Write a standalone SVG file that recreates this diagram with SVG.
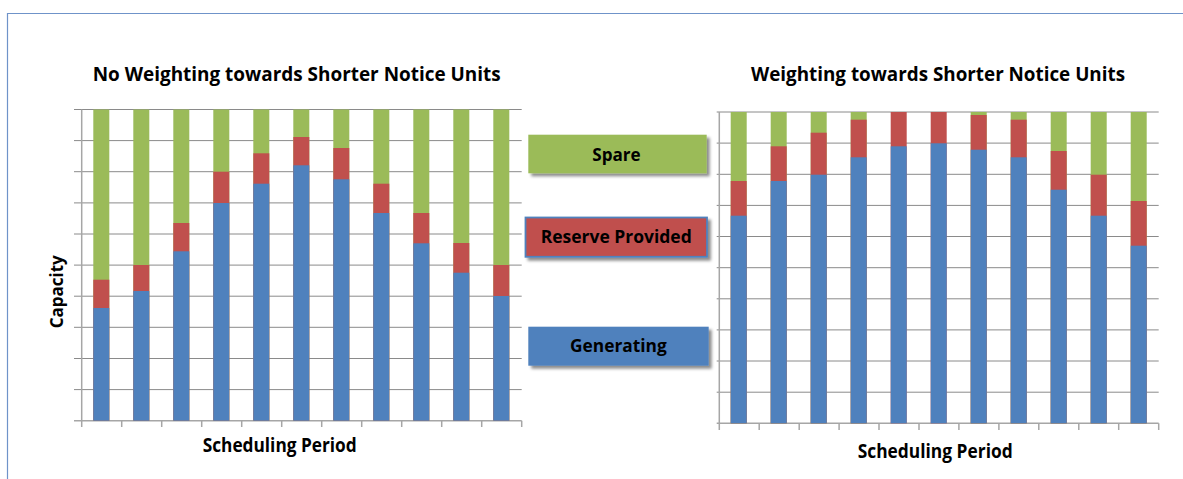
<svg xmlns="http://www.w3.org/2000/svg" width="1183" height="479" viewBox="0 0 1183 479">
<style>
.grid{stroke:#8a8a8a;stroke-width:1;fill:none}
.axis{stroke:#a6a6a6;stroke-width:1.5;fill:none}
.g{fill:#9BBB59}
.r{fill:#C0504D}
.b{fill:#4F81BD}
.t{font-family:"Open Sans","Noto Sans",sans-serif;font-weight:bold;fill:#000}
</style>
<defs>
<filter id="sh" x="-10%" y="-20%" width="120%" height="150%">
<feDropShadow dx="3" dy="3" stdDeviation="1.8" flood-color="#000" flood-opacity="0.45"/>
</filter>
</defs>
<rect width="1183" height="479" fill="#fff"/>
<path d="M7.5 479 V13.5 H1183" stroke="#6f93c9" stroke-width="1.2" fill="none"/>

<g id="left-chart">
<text class="t" x="92.7" y="80.5" font-size="20" textLength="408" lengthAdjust="spacingAndGlyphs">No Weighting towards Shorter Notice Units</text>
<g id="left-grid" class="grid">
<path d="M74 109.5H521.7M74 140.6H521.7M74 171.7H521.7M74 202.9H521.7M74 234H521.7M74 265.1H521.7M74 296.2H521.7M74 327.3H521.7M74 358.5H521.7M74 389.6H521.7"/>
</g>
<g id="left-axes" class="axis">
<path d="M81.7 109.5V427M74 420.7H521.7"/>
<path d="M121.7 420.7V427M161.7 420.7V427M201.7 420.7V427M241.7 420.7V427M281.7 420.7V427M321.7 420.7V427M361.7 420.7V427M401.7 420.7V427M441.7 420.7V427M481.7 420.7V427M521.7 420.7V427"/>
</g>
<g id="left-bars">
<rect class="g" x="93.3" y="109.5" width="16" height="311.2"/><rect class="r" x="93.3" y="279.7" width="16" height="141"/><rect class="b" x="93.3" y="308" width="16" height="112.7"/>
<rect class="g" x="133.3" y="109.5" width="16" height="311.2"/><rect class="r" x="133.3" y="265" width="16" height="155.7"/><rect class="b" x="133.3" y="291" width="16" height="129.7"/>
<rect class="g" x="173.3" y="109.5" width="16" height="311.2"/><rect class="r" x="173.3" y="223" width="16" height="197.7"/><rect class="b" x="173.3" y="251.3" width="16" height="169.4"/>
<rect class="g" x="213.3" y="109.5" width="16" height="311.2"/><rect class="r" x="213.3" y="171.7" width="16" height="249"/><rect class="b" x="213.3" y="203" width="16" height="217.7"/>
<rect class="g" x="253.3" y="109.5" width="16" height="311.2"/><rect class="r" x="253.3" y="153.3" width="16" height="267.4"/><rect class="b" x="253.3" y="183.7" width="16" height="237"/>
<rect class="g" x="293.3" y="109.5" width="16" height="311.2"/><rect class="r" x="293.3" y="137" width="16" height="283.7"/><rect class="b" x="293.3" y="165.3" width="16" height="255.4"/>
<rect class="g" x="333.3" y="109.5" width="16" height="311.2"/><rect class="r" x="333.3" y="148" width="16" height="272.7"/><rect class="b" x="333.3" y="179.3" width="16" height="241.4"/>
<rect class="g" x="373.3" y="109.5" width="16" height="311.2"/><rect class="r" x="373.3" y="183.7" width="16" height="237"/><rect class="b" x="373.3" y="213" width="16" height="207.7"/>
<rect class="g" x="413.3" y="109.5" width="16" height="311.2"/><rect class="r" x="413.3" y="213" width="16" height="207.7"/><rect class="b" x="413.3" y="243.3" width="16" height="177.4"/>
<rect class="g" x="453.3" y="109.5" width="16" height="311.2"/><rect class="r" x="453.3" y="243" width="16" height="177.7"/><rect class="b" x="453.3" y="272.7" width="16" height="148"/>
<rect class="g" x="493.3" y="109.5" width="16" height="311.2"/><rect class="r" x="493.3" y="265" width="16" height="155.7"/><rect class="b" x="493.3" y="296" width="16" height="124.7"/>
</g>
<text class="t" x="0" y="0" font-size="17.5" textLength="73" lengthAdjust="spacingAndGlyphs" transform="translate(62.7 328.3) rotate(-90)">Capacity</text>
<text class="t" x="202.7" y="451.5" font-size="19" textLength="154" lengthAdjust="spacingAndGlyphs">Scheduling Period</text>
</g>

<g id="legend">
<g id="legend-spare">
<rect class="g" x="528.3" y="134.7" width="178.4" height="38.6" filter="url(#sh)"/>
<text class="t" x="592.3" y="160.7" font-size="18" textLength="48.4" lengthAdjust="spacingAndGlyphs">Spare</text>
</g>
<g id="legend-reserve">
<rect class="r" x="525.5" y="217.5" width="181.5" height="39.3" stroke="#4F81BD" stroke-width="1.8" filter="url(#sh)"/>
<text class="t" x="540.7" y="243.3" font-size="18" textLength="151" lengthAdjust="spacingAndGlyphs">Reserve Provided</text>
</g>
<g id="legend-generating">
<rect class="b" x="528.3" y="326.7" width="180.4" height="39" filter="url(#sh)"/>
<text class="t" x="570" y="352.3" font-size="18" textLength="96.7" lengthAdjust="spacingAndGlyphs">Generating</text>
</g>
</g>

<g id="right-chart">
<text class="t" x="751" y="80.5" font-size="20" textLength="374" lengthAdjust="spacingAndGlyphs">Weighting towards Shorter Notice Units</text>
<g id="right-grid" class="grid">
<path d="M716.7 112H1158.7M716.7 143.1H1158.7M716.7 174.3H1158.7M716.7 205.4H1158.7M716.7 236.5H1158.7M716.7 267.7H1158.7M716.7 298.8H1158.7M716.7 329.9H1158.7M716.7 361H1158.7M716.7 392.2H1158.7"/>
</g>
<g id="right-axes" class="axis">
<path d="M719.3 112V430M716.7 423.3H1158.7"/>
<path d="M759.2 423.3V430M799.2 423.3V430M839.1 423.3V430M879 423.3V430M919 423.3V430M958.9 423.3V430M998.9 423.3V430M1038.8 423.3V430M1078.8 423.3V430M1118.7 423.3V430M1158.7 423.3V430"/>
</g>
<g id="right-bars">
<rect class="g" x="730.7" y="112" width="16" height="311.3"/><rect class="r" x="730.7" y="181" width="16" height="242.3"/><rect class="b" x="730.7" y="215.7" width="16" height="207.6"/>
<rect class="g" x="770.7" y="112" width="16" height="311.3"/><rect class="r" x="770.7" y="146.3" width="16" height="277"/><rect class="b" x="770.7" y="181" width="16" height="242.3"/>
<rect class="g" x="810.7" y="112" width="16" height="311.3"/><rect class="r" x="810.7" y="132.7" width="16" height="290.6"/><rect class="b" x="810.7" y="174.7" width="16" height="248.6"/>
<rect class="g" x="850.7" y="112" width="16" height="311.3"/><rect class="r" x="850.7" y="119.7" width="16" height="303.6"/><rect class="b" x="850.7" y="157.3" width="16" height="266"/>
<rect class="r" x="890.7" y="112" width="16" height="311.3"/><rect class="b" x="890.7" y="146.3" width="16" height="277"/>
<rect class="r" x="930.7" y="112" width="16" height="311.3"/><rect class="b" x="930.7" y="143.3" width="16" height="280"/>
<rect class="g" x="970.7" y="112" width="16" height="311.3"/><rect class="r" x="970.7" y="115" width="16" height="308.3"/><rect class="b" x="970.7" y="149.7" width="16" height="273.6"/>
<rect class="g" x="1010.7" y="112" width="16" height="311.3"/><rect class="r" x="1010.7" y="119.7" width="16" height="303.6"/><rect class="b" x="1010.7" y="157.3" width="16" height="266"/>
<rect class="g" x="1050.7" y="112" width="16" height="311.3"/><rect class="r" x="1050.7" y="151" width="16" height="272.3"/><rect class="b" x="1050.7" y="189.7" width="16" height="233.6"/>
<rect class="g" x="1090.7" y="112" width="16" height="311.3"/><rect class="r" x="1090.7" y="174.7" width="16" height="248.6"/><rect class="b" x="1090.7" y="215.7" width="16" height="207.6"/>
<rect class="g" x="1130.7" y="112" width="16" height="311.3"/><rect class="r" x="1130.7" y="201" width="16" height="222.3"/><rect class="b" x="1130.7" y="245.7" width="16" height="177.6"/>
</g>
<text class="t" x="857.7" y="458.3" font-size="19" textLength="155" lengthAdjust="spacingAndGlyphs">Scheduling Period</text>
</g>
</svg>
